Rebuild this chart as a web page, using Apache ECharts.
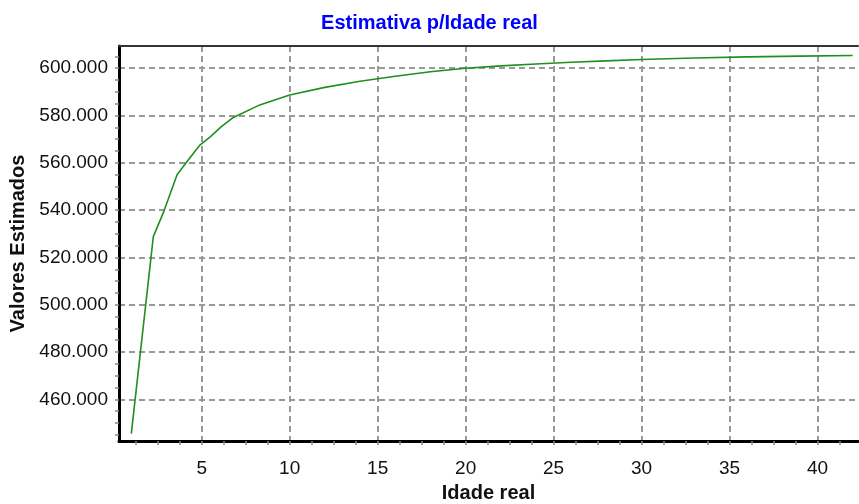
<!DOCTYPE html>
<html>
<head>
<meta charset="utf-8">
<script src="https://cdn.jsdelivr.net/npm/echarts@6/dist/echarts.min.js"></script>
<style>
html,body{margin:0;padding:0;background:#fff;}
#c{width:859px;height:504px;}
</style>
</head>
<body>
<div id="c"></div>
<script>
const titleText = 'Estimativa p/Idade real';
const xName = 'Idade real';
const yName = 'Valores Estimados';
const ages   = [1, 2.25, 2.85, 3.6, 4.1, 4.9, 5.5, 6.1, 6.8, 8.3, 10, 12, 14, 16, 18, 20, 22, 24, 26, 28, 30, 33, 36, 39, 42];
const values = [445.5, 528.8, 539.5, 555, 559.9, 567.5, 571.1, 575.2, 579.2, 584.5, 588.7, 591.9, 594.5, 596.6, 598.5, 600.0, 601.0, 601.8, 602.5, 603.1, 603.7, 604.3, 604.8, 605.1, 605.4];
const xTickLabels = [5, 10, 15, 20, 25, 30, 35, 40];
const yTickLabels = [460, 480, 500, 520, 540, 560, 580, 600];
const xMinorTicks = [1.25, 2.5, 3.75, 5, 6.25, 7.5, 8.75, 10, 11.25, 12.5, 13.75, 15, 16.25, 17.5, 18.75, 20, 21.25, 22.5, 23.75, 25, 26.25, 27.5, 28.75, 30, 31.25, 32.5, 33.75, 35, 36.25, 37.5, 38.75, 40, 41.25];
const yMinorTicks = [445, 450, 455, 460, 465, 470, 475, 480, 485, 490, 495, 500, 505, 510, 515, 520, 525, 530, 535, 540, 545, 550, 555, 560, 565, 570, 575, 580, 585, 590, 595, 600, 605];
const xRange = [0.3, 42.3];
const yRange = [442.4, 609.4];

const FONT = 'Liberation Sans';
const gridBox = {left: 119, top: 46, width: 739, height: 395, containLabel: false, outerBoundsMode: 'none'};
const chart = echarts.init(document.getElementById('c'), null, {renderer: 'canvas'});
chart.setOption({
  animation: false,
  backgroundColor: '#ffffff',
  title: {
    text: titleText, left: 'center', top: 8,
    textStyle: {color: '#0000ff', fontWeight: 'bold', fontSize: 20, fontFamily: FONT}
  },
  grid: [Object.assign({}, gridBox), Object.assign({}, gridBox)],
  xAxis: [
    {
      type: 'value', gridIndex: 0, position: 'bottom', min: xRange[0], max: xRange[1],
      name: xName, nameLocation: 'middle', nameGap: 42,
      nameTextStyle: {fontWeight: 'bold', fontSize: 20, color: '#111', fontFamily: FONT},
      axisLine: {show: true, lineStyle: {color: '#000', width: 3}},
      axisTick: {show: false, customValues: xTickLabels},
      axisLabel: {customValues: xTickLabels, margin: 18, fontSize: 19, color: '#111', fontFamily: FONT},
      splitLine: {show: true, lineStyle: {color: '#999', width: 2, type: [6, 4]}}
    },
    {
      type: 'value', gridIndex: 0, position: 'top', min: xRange[0], max: xRange[1],
      axisLine: {show: true, lineStyle: {color: '#333', width: 2}},
      axisTick: {show: false}, axisLabel: {show: false}, splitLine: {show: false}
    },
    {
      type: 'value', gridIndex: 1, position: 'bottom', min: xRange[0], max: xRange[1],
      axisLine: {show: false},
      axisTick: {show: true, customValues: xMinorTicks, length: 4, lineStyle: {color: '#888', width: 1.5}},
      axisLabel: {show: false}, splitLine: {show: false}
    }
  ],
  yAxis: [
    {
      type: 'value', gridIndex: 0, position: 'left', min: yRange[0], max: yRange[1],
      name: yName, nameLocation: 'middle', nameGap: 91, nameRotate: 90,
      nameTextStyle: {fontWeight: 'bold', fontSize: 20, color: '#111', fontFamily: FONT},
      axisLine: {show: true, lineStyle: {color: '#000', width: 3}},
      axisTick: {show: false, customValues: yTickLabels},
      axisLabel: {customValues: yTickLabels, margin: 11, fontSize: 19, color: '#111', fontFamily: FONT,
        formatter: v => v.toFixed(0) + '.000'},
      splitLine: {show: true, lineStyle: {color: '#999', width: 2, type: [6, 4]}}
    },
    {
      type: 'value', gridIndex: 1, position: 'left', min: yRange[0], max: yRange[1],
      axisLine: {show: false},
      axisTick: {show: true, customValues: yMinorTicks, length: 4, lineStyle: {color: '#888', width: 1.5}},
      axisLabel: {show: false}, splitLine: {show: false}
    }
  ],
  series: [{
    type: 'line', xAxisIndex: 0, yAxisIndex: 0,
    data: ages.map((a, i) => [a, values[i]]),
    showSymbol: false, symbol: 'none',
    lineStyle: {color: '#1f8f1f', width: 1.6},
    z: 5
  }]
});
</script>
</body>
</html>
